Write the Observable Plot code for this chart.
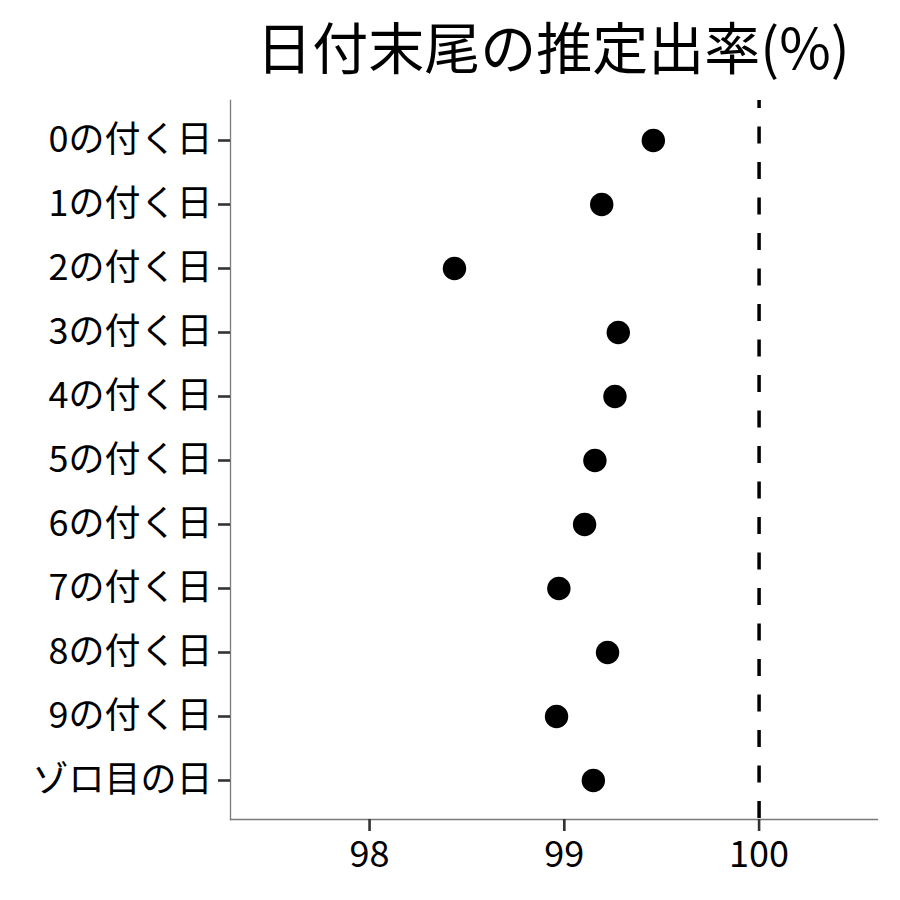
<!DOCTYPE html>
<html>
<head>
<meta charset="utf-8">
<script src="https://cdn.jsdelivr.net/npm/d3@7"></script>
<script src="https://cdn.jsdelivr.net/npm/@observablehq/plot@0.6"></script>
<style>
  html, body { margin: 0; padding: 0; background: #fff; }
  #wrap { width: 900px; height: 900px; position: relative; font-family: "Noto Sans CJK JP", sans-serif; }
  #title { position: absolute; left: 0; top: 0; width: 900px; height: 90px; box-sizing: border-box;
           padding-left: 206px; text-align: center; font-size: 56px; line-height: 90px; color: #000; }
  #chart { position: absolute; left: 0; top: 90px; }
</style>
</head>
<body>
<div id="wrap">
  <div id="title"></div>
  <div id="chart"></div>
</div>
<script>
const titleText = "日付末尾の推定出率(%)";
const categories = ["0の付く日", "1の付く日", "2の付く日", "3の付く日", "4の付く日", "5の付く日",
                    "6の付く日", "7の付く日", "8の付く日", "9の付く日", "ゾロ目の日"];
const rates = [99.457, 99.192, 98.436, 99.277, 99.260, 99.157, 99.104, 98.972, 99.222, 98.960, 99.149];
const xTicks = [98, 99, 100];
const refValue = [100];

document.getElementById("title").textContent = titleText;

const data = categories.map((c, i) => ({category: c, rate: rates[i]}));

const chart = Plot.plot({
  width: 900,
  height: 810,
  marginTop: 10,
  marginBottom: 81,
  marginLeft: 230,
  marginRight: 23,
  style: {fontFamily: "Noto Sans CJK JP, sans-serif", fontSize: "36px", background: "#fff", color: "#000"},
  x: {domain: [97.286, 100.608]},
  y: {domain: categories, padding: 0.6},
  marks: [
    Plot.frame({anchor: "left", stroke: "#7a7a7a", strokeWidth: 1.3}),
    Plot.frame({anchor: "bottom", stroke: "#7a7a7a", strokeWidth: 1.3}),
    Plot.axisX({ticks: xTicks, tickSize: 12, tickPadding: 10, stroke: "#333", strokeWidth: 2.6, fill: "#000", label: null, tickFormat: d => String(d)}),
    Plot.axisY({tickSize: 12, tickPadding: 6, stroke: "#333", strokeWidth: 2.6, fill: "#000", label: null}),
    Plot.ruleX(refValue, {stroke: "#000", strokeWidth: 3.5, strokeDasharray: "17,18.5", strokeDashoffset: 9}),
    Plot.dot(data, {x: "rate", y: "category", r: 11.7, fill: "#000", stroke: "none"})
  ]
});
document.getElementById("chart").appendChild(chart);
</script>
</body>
</html>
